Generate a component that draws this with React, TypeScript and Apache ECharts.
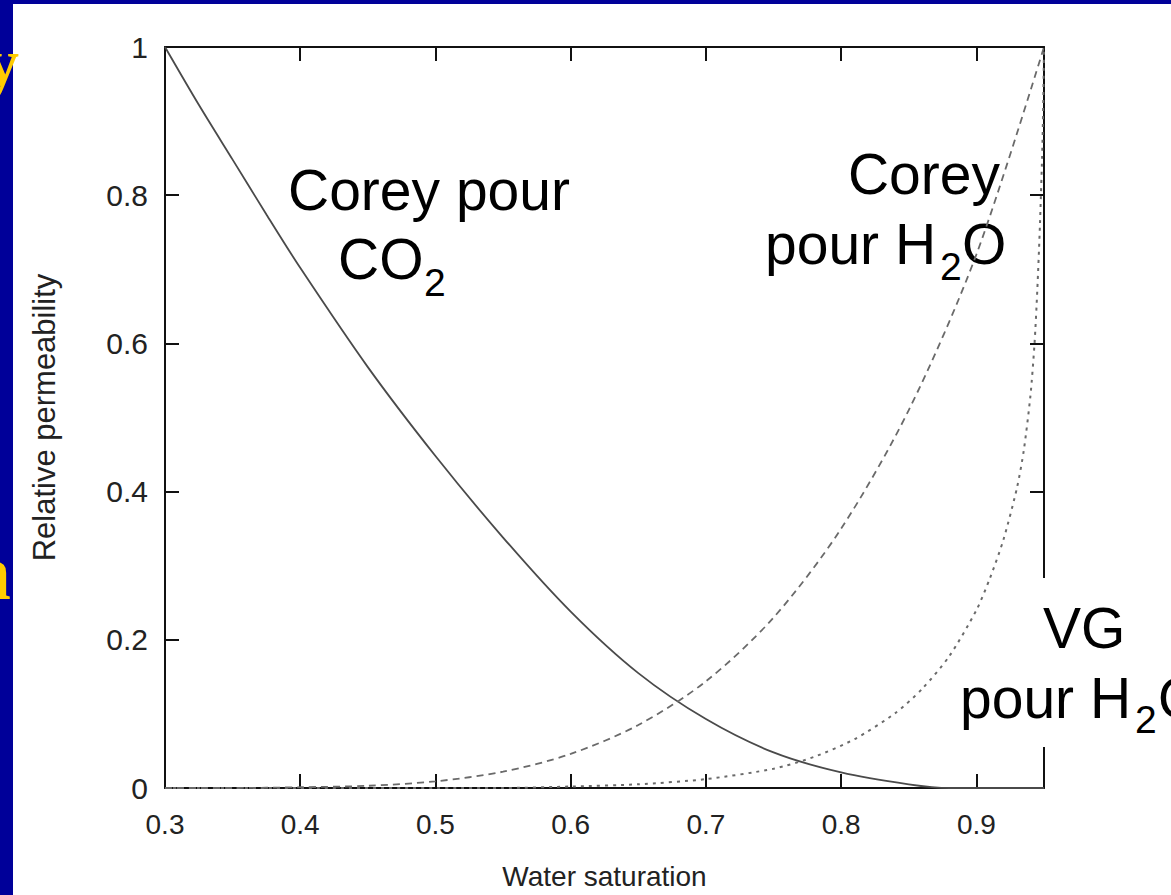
import React, { useEffect, useRef } from "react";
import * as echarts from "echarts";

// ---------- data ----------
const co2Sw = [0.3, 0.325, 0.35, 0.375, 0.4, 0.45, 0.5, 0.55, 0.6, 0.65, 0.7, 0.75, 0.8, 0.85, 0.88, 0.95];
const co2Kr = [1.0, 0.922, 0.848, 0.774, 0.702, 0.568, 0.448, 0.338, 0.238, 0.155, 0.093, 0.048, 0.021, 0.005, 0.0, 0.0];

const h2oSw = [0.3, 0.35, 0.4, 0.45, 0.5, 0.55, 0.6, 0.65, 0.7, 0.75, 0.8, 0.85, 0.9, 0.95];
const h2oKr = [0.0, 0.0, 0.001, 0.003, 0.009, 0.022, 0.046, 0.085, 0.144, 0.23, 0.35, 0.51, 0.72, 1.0];

const vgSw = [0.3, 0.55, 0.6, 0.65, 0.7, 0.75, 0.78, 0.81, 0.84, 0.86, 0.88, 0.9, 0.91, 0.92, 0.93, 0.935, 0.94, 0.943, 0.945, 0.947, 0.949, 0.95];
const vgKr = [0.0, 0.0, 0.002, 0.005, 0.012, 0.026, 0.042, 0.066, 0.101, 0.134, 0.178, 0.24, 0.283, 0.335, 0.405, 0.455, 0.53, 0.6, 0.67, 0.76, 0.88, 1.0];

const xTickLabels = ["0.3", "0.4", "0.5", "0.6", "0.7", "0.8", "0.9"];
const yTickLabels = ["0", "0.2", "0.4", "0.6", "0.8", "1"];

const xName = "Water saturation";
const yName = "Relative permeability";

// ---------- styling ----------
const FONT = "Liberation Sans";
const AX = "#111";
const LBL = "#222";

const pick = (labels: string[]) => (v: number) => {
  const f = labels.find((l) => Math.abs(parseFloat(l) - v) < 1e-6);
  return f === undefined ? "" : f;
};

const tickStyle = { show: true, inside: true, length: 14, lineStyle: { color: AX, width: 2 } };
const lineStyleAx = { show: true, onZero: false, lineStyle: { color: AX, width: 2 } };

const txt = (
  text: string,
  x: number,
  y: number,
  size: number,
  align: string = "left",
  z: number = 1
) => ({
  type: "text",
  x,
  y,
  z,
  silent: true,
  style: {
    text,
    x: 0,
    y: 0,
    fill: "#000",
    font: `${size}px "${FONT}"`,
    align,
    textAlign: align,
    verticalAlign: "middle",
    textVerticalAlign: "middle",
  },
});

export default function App() {
  const ref = useRef<HTMLDivElement>(null);

  useEffect(() => {
    document.body.style.margin = "0";
    const chart = echarts.init(ref.current as HTMLDivElement, null, {
      renderer: "svg",
      width: 1171,
      height: 895,
    });

    const option: any = {
      animation: false,
      backgroundColor: "#000099",
      grid: { left: 165, right: 127, top: 47, bottom: 104, containLabel: false },
      xAxis: [
        {
          type: "value",
          min: 0.3,
          max: 0.95,
          interval: 0.1,
          position: "bottom",
          axisLine: lineStyleAx,
          axisTick: tickStyle,
          splitLine: { show: false },
          axisLabel: {
            margin: 22,
            fontSize: 28,
            color: LBL,
            fontFamily: FONT,
            showMaxLabel: false,
            formatter: pick(xTickLabels),
          },
          name: xName,
          nameLocation: "middle",
          nameGap: 74,
          nameTextStyle: { fontSize: 28, color: LBL, fontFamily: FONT },
        },
        {
          type: "value",
          min: 0.3,
          max: 0.95,
          interval: 0.1,
          position: "top",
          axisLine: lineStyleAx,
          axisTick: tickStyle,
          splitLine: { show: false },
          axisLabel: { show: false },
        },
      ],
      yAxis: [
        {
          type: "value",
          min: 0,
          max: 1,
          interval: 0.2,
          position: "left",
          axisLine: lineStyleAx,
          axisTick: tickStyle,
          splitLine: { show: false },
          axisLabel: {
            margin: 17,
            fontSize: 30,
            color: LBL,
            fontFamily: FONT,
            formatter: pick(yTickLabels),
          },
          name: yName,
          nameLocation: "middle",
          nameGap: 105,
          nameTextStyle: { fontSize: 31, color: LBL, fontFamily: FONT },
        },
        {
          type: "value",
          min: 0,
          max: 1,
          interval: 0.2,
          position: "right",
          axisLine: lineStyleAx,
          axisTick: tickStyle,
          splitLine: { show: false },
          axisLabel: { show: false },
        },
      ],
      series: [
        {
          name: "Corey CO2",
          type: "line",
          xAxisIndex: 0,
          yAxisIndex: 0,
          showSymbol: false,
          symbol: "none",
          smooth: 0.3,
          z: 3,
          lineStyle: { color: "#4a4a4a", width: 1.8, type: "solid" },
          data: co2Sw.map((x, i) => [x, co2Kr[i]]),
        },
        {
          name: "Corey H2O",
          type: "line",
          xAxisIndex: 0,
          yAxisIndex: 0,
          showSymbol: false,
          symbol: "none",
          smooth: 0.3,
          z: 3,
          lineStyle: { color: "#6a6a6a", width: 1.8, type: [7, 5] },
          data: h2oSw.map((x, i) => [x, h2oKr[i]]),
        },
        {
          name: "VG H2O",
          type: "line",
          xAxisIndex: 0,
          yAxisIndex: 0,
          showSymbol: false,
          symbol: "none",
          smooth: 0.25,
          z: 3,
          lineStyle: { color: "#6a6a6a", width: 2, type: [3, 5] },
          data: vgSw.map((x, i) => [x, vgKr[i]]),
        },
      ],
      graphic: [
        {
          type: "rect",
          z: -100,
          silent: true,
          shape: { x: 13, y: 4, width: 1158, height: 891 },
          style: { fill: "#ffffff" },
        },
        // white box behind the VG label (hides part of the right axis)
        {
          type: "rect",
          z: 50,
          silent: true,
          shape: { x: 1024, y: 578, width: 147, height: 169 },
          style: { fill: "#ffffff" },
        },
        // yellow slide-title fragments peeking in at the left edge
        {
          type: "text",
          x: 19,
          y: 97,
          z: 60,
          silent: true,
          style: {
            text: "y",
            fill: "#FFCC00",
            font: 'bold 68px "Liberation Serif"',
            align: "right",
            textAlign: "right",
            verticalAlign: "bottom",
            textVerticalAlign: "bottom",
          },
        },
        {
          type: "text",
          x: 11,
          y: 611,
          z: 60,
          silent: true,
          style: {
            text: "n",
            fill: "#FFCC00",
            font: 'bold 78px "Liberation Serif"',
            align: "right",
            textAlign: "right",
            verticalAlign: "bottom",
            textVerticalAlign: "bottom",
          },
        },
        // annotations
        txt("Corey pour", 288, 190, 57),
        txt("CO", 338, 259, 57),
        txt("2", 424, 282, 39),
        txt("Corey", 1000, 174, 57, "right"),
        txt("pour H", 765, 244, 57),
        txt("2", 940, 266, 39),
        txt("O", 962, 244, 57),
        txt("VG", 1043, 628, 57, "left", 51),
        txt("pour H", 960, 698, 57, "left", 51),
        txt("2", 1135, 719, 39, "left", 51),
        txt("O", 1158, 698, 57, "left", 51),
      ],
    };

    chart.setOption(option);
    return () => chart.dispose();
  }, []);

  return (
    <div
      ref={ref}
      style={{ position: "absolute", left: 0, top: 0, width: 1171, height: 895 }}
    />
  );
}
